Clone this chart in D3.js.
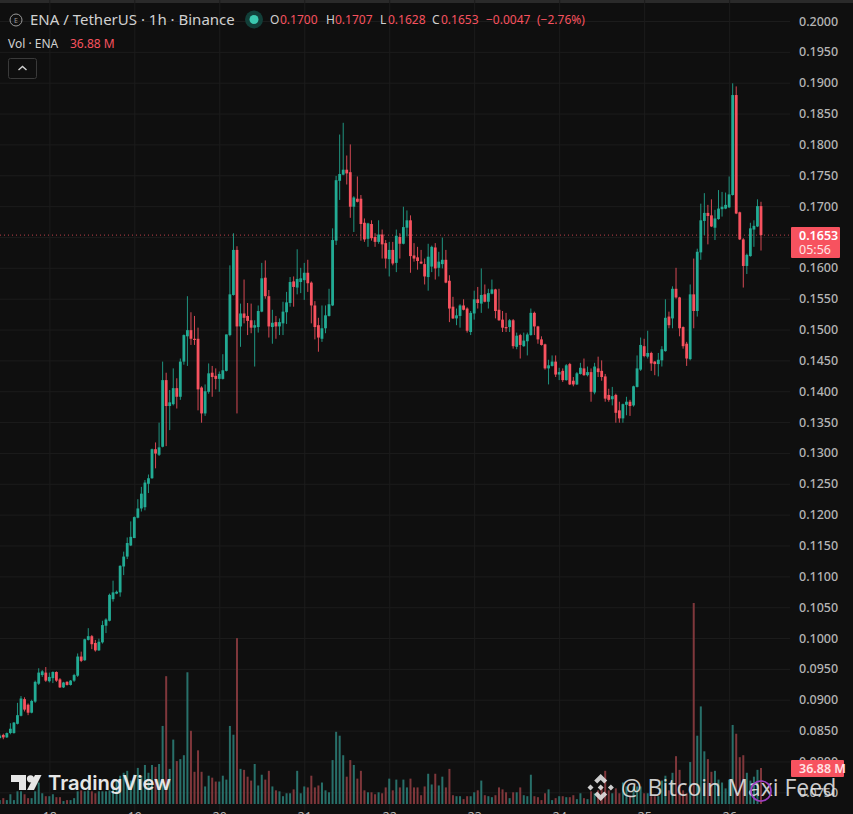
<!DOCTYPE html>
<html>
<head>
<meta charset="utf-8">
<title>ENA / TetherUS</title>
<script src="https://cdn.jsdelivr.net/npm/d3@7"></script>
<style>
  html, body { margin: 0; padding: 0; background: #0f0f0f; overflow: hidden; }
  text { font-family: "Noto Sans", sans-serif; }
</style>
</head>
<body>
<div id="chart"></div>
<script>
// hourly candles
var opens = [
  .0838,.0843,.0839,.0846,.0846,.0861,.0874,.0901,.0892,.0879,
  .0897,.0926,.0940,.0944,.0930,.0935,.0945,.0933,.0920,.0929,
  .0924,.0931,.0939,.0970,.0964,.0997,.1003,.0992,.0980,.0993,
  .1020,.1028,.1063,.1072,.1074,.1116,.1132,.1150,.1162,.1195,
  .1210,.1212,.1250,.1259,.1306,.1297,.1310,.1418,.1376,.1379,
  .1405,.1391,.1448,.1489,.1499,.1485,.1485,.1406,.1364,.1399,
  .1430,.1425,.1420,.1420,.1433,.1491,.1556,.1629,.1505,.1526,
  .1522,.1515,.1503,.1504,.1529,.1584,.1554,.1504,.1512,.1505,
  .1510,.1528,.1543,.1578,.1568,.1577,.1580,.1592,.1576,.1539,
  .1507,.1485,.1502,.1522,.1539,.1644,.1741,.1751,.1759,.1755,
  .1699,.1712,.1712,.1673,.1647,.1671,.1650,.1642,.1654,.1640,
  .1614,.1629,.1608,.1650,.1639,.1665,.1677,.1620,.1617,.1610,
  .1606,.1585,.1602,.1633,.1600,.1606,.1613,.1579,.1537,.1518,
  .1522,.1539,.1534,.1496,.1526,.1549,.1542,.1557,.1545,.1558,
  .1565,.1532,.1516,.1504,.1504,.1515,.1472,.1491,.1473,.1481,
  .1491,.1527,.1505,.1484,.1476,.1437,.1441,.1448,.1427,.1433,
  .1418,.1444,.1417,.1411,.1428,.1437,.1426,.1431,.1398,.1437,
  .1433,.1424,.1394,.1387,.1394,.1369,.1356,.1378,.1383,.1377,
  .1407,.1435,.1473,.1456,.1462,.1448,.1444,.1450,.1465,.1521,
  .1518,.1566,.1552,.1504,.1477,.1452,.1557,.1530,.1625,.1676,
  .1689,.1685,.1665,.1679,.1695,.1696,.1698,.1718,.1880,.1690,
  .1646,.1603,.1619,.1662,.1667,.1700
];
var highs = [
  .0845,.0845,.0847,.0862,.0864,.0895,.0906,.0904,.0894,.0900,
  .0931,.0951,.0948,.0953,.0944,.0946,.0946,.0935,.0929,.0930,
  .0932,.0942,.0975,.0978,.0999,.1016,.1005,.0997,.0999,.1028,
  .1032,.1072,.1093,.1077,.1118,.1140,.1163,.1189,.1197,.1225,
  .1245,.1256,.1265,.1307,.1317,.1349,.1448,.1430,.1402,.1437,
  .1421,.1453,.1492,.1554,.1528,.1522,.1503,.1408,.1411,.1445,
  .1441,.1437,.1432,.1460,.1492,.1604,.1656,.1635,.1542,.1581,
  .1543,.1542,.1515,.1539,.1608,.1612,.1564,.1532,.1522,.1518,
  .1545,.1561,.1585,.1586,.1630,.1600,.1608,.1613,.1578,.1546,
  .1519,.1539,.1539,.1566,.1664,.1749,.1816,.1835,.1782,.1800,
  .1716,.1748,.1718,.1680,.1673,.1677,.1656,.1677,.1662,.1645,
  .1642,.1642,.1662,.1656,.1699,.1693,.1685,.1640,.1634,.1629,
  .1615,.1639,.1636,.1640,.1626,.1649,.1629,.1588,.1553,.1534,
  .1541,.1549,.1536,.1530,.1563,.1569,.1599,.1573,.1566,.1581,
  .1566,.1566,.1530,.1527,.1517,.1517,.1495,.1493,.1495,.1495,
  .1534,.1529,.1506,.1489,.1477,.1451,.1458,.1458,.1438,.1437,
  .1444,.1446,.1423,.1431,.1446,.1453,.1440,.1437,.1446,.1456,
  .1450,.1428,.1404,.1407,.1396,.1383,.1380,.1391,.1386,.1409,
  .1458,.1487,.1485,.1498,.1464,.1449,.1462,.1473,.1549,.1529,
  .1570,.1600,.1553,.1505,.1480,.1573,.1615,.1631,.1704,.1721,
  .1702,.1711,.1694,.1726,.1723,.1722,.1748,.1899,.1894,.1691,
  .1648,.1623,.1673,.1677,.1711,.1707
];
var lows = [
  .0836,.0836,.0838,.0844,.0845,.0860,.0873,.0881,.0875,.0878,
  .0895,.0924,.0937,.0929,.0928,.0927,.0929,.0919,.0919,.0923,
  .0923,.0929,.0937,.0961,.0963,.0996,.0982,.0978,.0979,.0991,
  .1008,.1027,.1059,.1071,.1067,.1102,.1128,.1149,.1162,.1194,
  .1205,.1207,.1235,.1258,.1275,.1295,.1309,.1311,.1337,.1377,
  .1372,.1386,.1443,.1441,.1475,.1475,.1369,.1349,.1360,.1396,
  .1391,.1403,.1399,.1419,.1432,.1489,.1555,.1364,.1472,.1510,
  .1491,.1494,.1440,.1495,.1528,.1550,.1487,.1477,.1485,.1491,
  .1491,.1509,.1537,.1537,.1557,.1559,.1548,.1561,.1510,.1484,
  .1464,.1480,.1494,.1521,.1538,.1637,.1710,.1750,.1735,.1681,
  .1658,.1706,.1644,.1642,.1634,.1644,.1634,.1639,.1615,.1599,
  .1586,.1604,.1593,.1615,.1638,.1651,.1592,.1610,.1597,.1606,
  .1573,.1563,.1593,.1581,.1586,.1599,.1575,.1512,.1517,.1507,
  .1503,.1531,.1495,.1491,.1516,.1534,.1527,.1544,.1534,.1557,
  .1518,.1514,.1496,.1496,.1496,.1469,.1468,.1453,.1472,.1458,
  .1490,.1491,.1477,.1474,.1435,.1411,.1440,.1423,.1418,.1415,
  .1417,.1410,.1408,.1410,.1427,.1425,.1424,.1383,.1395,.1423,
  .1417,.1383,.1383,.1377,.1349,.1349,.1349,.1361,.1360,.1375,
  .1406,.1433,.1455,.1453,.1433,.1426,.1424,.1440,.1464,.1502,
  .1502,.1550,.1489,.1469,.1441,.1450,.1502,.1521,.1613,.1653,
  .1638,.1666,.1645,.1678,.1683,.1695,.1697,.1717,.1687,.1645,
  .1568,.1590,.1618,.1634,.1666,.1628
];
var closes = [
  .0842,.0839,.0846,.0853,.0863,.0875,.0902,.0884,.0879,.0898,
  .0929,.0944,.0946,.0931,.0937,.0945,.0931,.0920,.0928,.0924,
  .0931,.0940,.0970,.0963,.0998,.1003,.0990,.0980,.0994,.1021,
  .1030,.1070,.1074,.1075,.1117,.1132,.1154,.1164,.1196,.1210,
  .1234,.1252,.1259,.1306,.1299,.1309,.1418,.1376,.1382,.1405,
  .1391,.1448,.1491,.1499,.1485,.1483,.1403,.1364,.1400,.1429,
  .1423,.1420,.1428,.1434,.1492,.1557,.1629,.1505,.1526,.1519,
  .1514,.1503,.1507,.1530,.1583,.1554,.1505,.1511,.1505,.1512,
  .1529,.1544,.1577,.1569,.1582,.1583,.1592,.1575,.1539,.1504,
  .1487,.1502,.1523,.1541,.1645,.1742,.1752,.1759,.1753,.1699,
  .1714,.1707,.1671,.1646,.1672,.1648,.1642,.1654,.1638,.1615,
  .1629,.1607,.1652,.1639,.1666,.1677,.1619,.1615,.1611,.1607,
  .1586,.1618,.1634,.1599,.1610,.1613,.1576,.1534,.1518,.1523,
  .1539,.1532,.1498,.1527,.1549,.1543,.1556,.1545,.1559,.1565,
  .1530,.1515,.1503,.1502,.1515,.1473,.1490,.1475,.1482,.1492,
  .1527,.1505,.1484,.1475,.1437,.1442,.1448,.1427,.1431,.1418,
  .1442,.1411,.1411,.1429,.1438,.1426,.1431,.1399,.1440,.1431,
  .1423,.1388,.1386,.1392,.1365,.1356,.1379,.1383,.1376,.1408,
  .1437,.1475,.1457,.1462,.1445,.1444,.1451,.1468,.1519,.1507,
  .1566,.1552,.1502,.1473,.1453,.1557,.1530,.1626,.1677,.1689,
  .1684,.1667,.1680,.1696,.1699,.1702,.1719,.1880,.1688,.1646,
  .1603,.1621,.1664,.1668,.1700,.1653
];
// volume in millions of ENA
var volumes = [
  4,6,4,10,4,13,13,10,6,6,
  13,22,11,8,8,10,7,7,3,4,
  4,6,13,14,13,14,13,11,13,13,
  13,14,18,25,29,32,34,24,30,37,
  29,40,32,40,38,41,80,131,36,66,
  44,46,50,135,75,33,55,33,18,29,
  27,23,23,29,25,80,71,170,36,35,
  28,24,41,19,30,25,34,18,14,13,
  8,11,11,15,34,11,18,17,29,17,
  19,22,14,12,45,74,70,50,28,45,
  40,26,34,14,12,12,10,12,11,17,
  26,14,25,17,25,17,26,17,17,9,
  18,31,20,31,19,28,17,36,9,8,
  8,5,8,8,12,14,24,9,8,7,
  9,17,15,12,6,12,12,17,9,8,
  30,8,7,4,11,15,4,6,8,8,
  7,7,9,5,11,6,5,13,11,14,
  18,34,14,11,16,11,22,18,8,18,
  18,18,11,11,8,8,8,24,29,14,
  32,49,35,14,11,43,206,70,100,54,
  46,33,34,25,22,16,25,81,72,48,
  50,32,24,28,35,36.88
];

var priceTicks = [0.2,0.195,0.19,0.185,0.18,0.175,0.17,0.165,0.16,0.155,0.15,0.145,0.14,0.135,0.13,0.125,0.12,0.115,0.11,0.105,0.1,0.095,0.09,0.085,0.08,0.075];
var dayTicks = [14,38,62,86,110,134,158,182,206];
var dayLabels = ["18","19","20","21","22","23","24","25","26"];
var lastPrice = 0.1653;
var lastVolume = "36.88 M";
var countdown = "05:56";

var upColor = "#22ab94", downColor = "#f7525f";
var upVol = "#28706a", downVol = "#7f373b";
var gridColor = "#1c1c1c", axisText = "#b4b4b4";

var width = 853, height = 814, paneRight = 790;

var svg = d3.select("#chart").append("svg")
    .attr("width", width)
    .attr("height", height)
    .style("display", "block");

svg.append("rect").attr("width", width).attr("height", height).attr("fill", "#0f0f0f");
svg.append("rect").attr("width", width).attr("height", 3).attr("fill", "#2a2a2a");

var x = d3.scaleLinear().domain([0, 215]).range([-0.24, 761]);
var y = d3.scaleLinear().domain([0.075, 0.2]).range([792.3, 21]);
var yVol = d3.scaleLinear().domain([0, 206]).range([804, 603]);

// grid
svg.append("g")
    .call(d3.axisRight(y).tickValues(priceTicks).tickSize(paneRight).tickFormat(""))
    .call(function(g) { g.select(".domain").remove(); })
    .selectAll("line").attr("stroke", gridColor);

svg.append("g")
    .attr("transform", "translate(0," + height + ")")
    .call(d3.axisTop(x).tickValues(dayTicks).tickSize(height).tickFormat(""))
    .call(function(g) { g.select(".domain").remove(); })
    .selectAll("line").attr("stroke", gridColor);

// volume
svg.append("g").selectAll("rect")
    .data(volumes)
    .join("rect")
    .attr("x", function(d, i) { return x(i) - 1; })
    .attr("width", 2)
    .attr("y", function(d) { return yVol(d); })
    .attr("height", function(d) { return yVol(0) - yVol(d); })
    .attr("fill", function(d, i) { return closes[i] >= opens[i] ? upVol : downVol; });

// last price line
svg.append("line")
    .attr("x1", 0).attr("x2", paneRight)
    .attr("y1", y(lastPrice)).attr("y2", y(lastPrice))
    .attr("stroke", downColor)
    .attr("stroke-opacity", 0.75)
    .attr("stroke-dasharray", "1 3");

// candles
var candles = svg.append("g").selectAll("g")
    .data(opens)
    .join("g");

candles.append("line")
    .attr("x1", function(d, i) { return x(i); })
    .attr("x2", function(d, i) { return x(i); })
    .attr("y1", function(d, i) { return y(highs[i]); })
    .attr("y2", function(d, i) { return y(lows[i]); })
    .attr("stroke", function(d, i) { return closes[i] >= d ? upColor : downColor; })
    .attr("stroke-opacity", 0.85)
    .attr("stroke-width", 1);

candles.append("rect")
    .attr("x", function(d, i) { return x(i) - 1.4; })
    .attr("width", 2.8)
    .attr("y", function(d, i) { return y(Math.max(d, closes[i])); })
    .attr("height", function(d, i) { return Math.max(1, Math.abs(y(d) - y(closes[i]))); })
    .attr("fill", function(d, i) { return closes[i] >= d ? upColor : downColor; });

// price axis
var priceAxis = svg.append("g")
    .attr("transform", "translate(796,0)")
    .call(d3.axisRight(y).tickValues(priceTicks).tickSize(0).tickPadding(3).tickFormat(d3.format(".4f")));
priceAxis.select(".domain").remove();
priceAxis.selectAll("text")
    .attr("fill", axisText)
    .style("font-size", "12.5px")
    .style("font-family", "'Noto Sans', sans-serif")
    .style("font-weight", 500);

// day labels, the bottom of the page cuts them off
var dayAxis = svg.append("g")
    .attr("transform", "translate(0,811)")
    .call(d3.axisBottom(x).tickValues(dayTicks).tickSize(0).tickPadding(1)
      .tickFormat(function(d, i) { return dayLabels[i]; }));
dayAxis.select(".domain").remove();
dayAxis.selectAll("text")
    .attr("fill", axisText)
    .style("font-size", "12.5px")
    .style("font-family", "'Noto Sans', sans-serif");

// header
var header = svg.append("g");
header.append("circle").attr("cx", 16).attr("cy", 20).attr("r", 6)
    .attr("fill", "none").attr("stroke", "#9a9a9a").attr("stroke-width", 1);
header.append("text").attr("x", 16).attr("y", 22.5).attr("text-anchor", "middle")
    .attr("fill", "#9a9a9a").style("font-size", "7px").text("E");
header.append("text").attr("x", 30).attr("y", 24.5)
    .attr("fill", "#d1d1d1").style("font-size", "15px").text("ENA / TetherUS · 1h · Binance");
header.append("circle").attr("cx", 254).attr("cy", 19.5).attr("r", 9).attr("fill", "#123f39");
header.append("circle").attr("cx", 254).attr("cy", 19.5).attr("r", 4.5).attr("fill", "#3bc9b0");

var ohlcLabels = [
  {x: 270, t: "O", c: "#d1d1d1"}, {x: 280, t: "0.1700", c: downColor},
  {x: 326, t: "H", c: "#d1d1d1"}, {x: 335, t: "0.1707", c: downColor},
  {x: 380, t: "L", c: "#d1d1d1"}, {x: 388, t: "0.1628", c: downColor},
  {x: 432, t: "C", c: "#d1d1d1"}, {x: 441, t: "0.1653", c: downColor},
  {x: 486, t: "−0.0047", c: downColor}, {x: 537, t: "(−2.76%)", c: downColor}
];
header.selectAll("text.ohlc")
    .data(ohlcLabels)
    .join("text")
    .attr("class", "ohlc")
    .attr("x", function(d) { return d.x; })
    .attr("y", 24)
    .attr("fill", function(d) { return d.c; })
    .style("font-size", "12px")
    .text(function(d) { return d.t; });

header.append("text").attr("x", 8).attr("y", 48)
    .attr("fill", "#d1d1d1").style("font-size", "12px").text("Vol · ENA");
header.append("text").attr("x", 70).attr("y", 48)
    .attr("fill", downColor).style("font-size", "12px").text(lastVolume);

header.append("rect").attr("x", 8.5).attr("y", 58.5).attr("width", 28).attr("height", 20).attr("rx", 2)
    .attr("fill", "#0f0f0f").attr("stroke", "#3a3a3a");
header.append("path").attr("d", "M18.5 70l4-3.5 4 3.5")
    .attr("fill", "none").attr("stroke", "#d1d1d1").attr("stroke-width", 1.4);

// price and volume tags
svg.append("rect").attr("x", 791).attr("y", 227).attr("width", 49).attr("height", 31).attr("rx", 1).attr("fill", downColor);
svg.append("text").attr("x", 799).attr("y", 240).attr("fill", "#ffffff")
    .style("font-size", "12.5px").style("font-weight", 600).text(d3.format(".4f")(lastPrice));
svg.append("text").attr("x", 799).attr("y", 254).attr("fill", "#ffe3e5")
    .style("font-size", "12.5px").text(countdown);

svg.append("rect").attr("x", 791).attr("y", 760).attr("width", 53).attr("height", 17).attr("rx", 1).attr("fill", downColor);
svg.append("text").attr("x", 799).attr("y", 773).attr("fill", "#ffe3e5")
    .style("font-size", "12.5px").style("font-weight", 600).text(lastVolume);

// TradingView mark
var tv = svg.append("g").attr("fill", "#e6e6e6");
tv.append("path").attr("d", "M11 775h15v15h-7v-8h-8z");
tv.append("circle").attr("cx", 30.5).attr("cy", 778.8).attr("r", 3.6);
tv.append("path").attr("d", "M35 775h6.5l-7.5 15h-7z");
tv.append("text").attr("x", 48).attr("y", 790)
    .style("font-family", "Inter, sans-serif")
    .style("font-size", "20.2px").style("font-weight", 600).text("TradingView");

// Binance feed watermark
var wm = svg.append("g").attr("fill", "#e8e8e8").attr("fill-opacity", 0.88);
wm.append("path").attr("d", "M600.7 774l6.5 6.5-3 3-3.5-3.5-3.5 3.5-3-3z");
wm.append("path").attr("d", "M600.7 801l6.5-6.5-3-3-3.5 3.5-3.5-3.5-3 3z");
wm.append("path").attr("d", "M600.7 784.5l3 3-3 3-3-3z");
wm.append("path").attr("d", "M590.5 784.5l3 3-3 3-3-3z");
wm.append("path").attr("d", "M610.9 784.5l3 3-3 3-3-3z");
wm.append("text").attr("x", 621).attr("y", 796)
    .style("font-size", "23px")
    .style("font-family", "'Open Sans', sans-serif")
    .text("@ Bitcoin Maxi Feed");
svg.append("circle").attr("cx", 761).attr("cy", 791).attr("r", 10)
    .attr("fill", "none").attr("stroke", "#a03fc4").attr("stroke-width", 1.6);
</script>
</body>
</html>
